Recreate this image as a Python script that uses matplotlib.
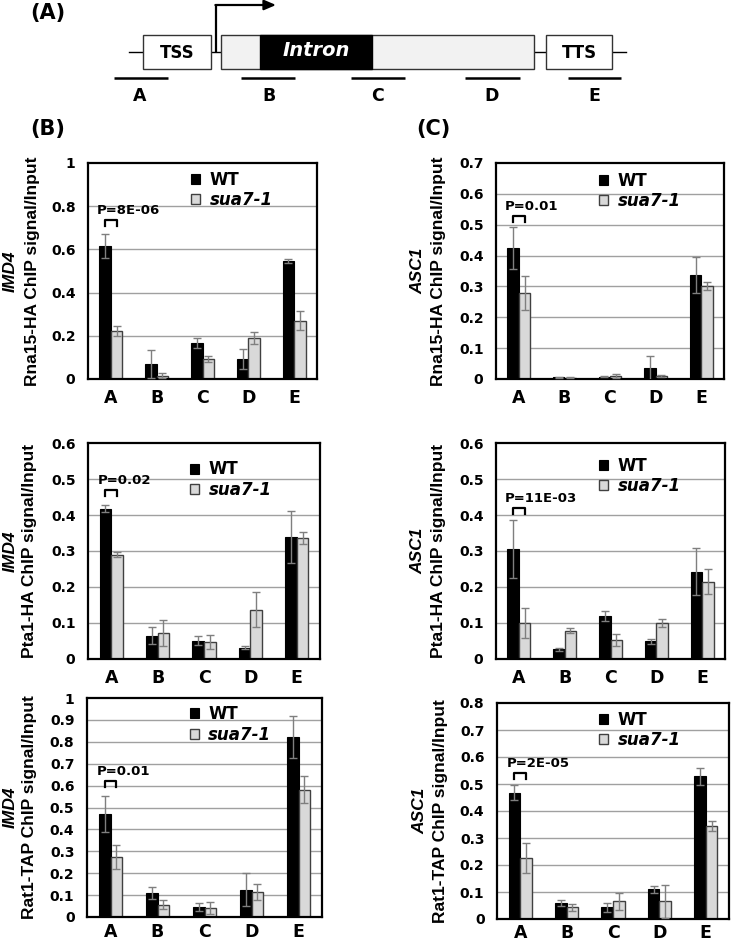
import matplotlib
matplotlib.use("Agg")
import matplotlib.pyplot as plt
import numpy as np
from matplotlib.patches import Rectangle

# ---------------- data ----------------
regions = ['A', 'B', 'C', 'D', 'E']
series_names = ['WT', 'sua7-1']

imd4_rna15_wt = [0.615, 0.069, 0.166, 0.092, 0.546]
imd4_rna15_wt_err = [0.055, 0.066, 0.023, 0.045, 0.010]
imd4_rna15_mut = [0.223, 0.015, 0.092, 0.190, 0.270]
imd4_rna15_mut_err = [0.023, 0.012, 0.015, 0.027, 0.045]

asc1_rna15_wt = [0.423, 0.006, 0.008, 0.035, 0.337]
asc1_rna15_wt_err = [0.068, 0.002, 0.002, 0.040, 0.058]
asc1_rna15_mut = [0.278, 0.004, 0.010, 0.010, 0.302]
asc1_rna15_mut_err = [0.056, 0.002, 0.007, 0.004, 0.012]

imd4_pta1_wt = [0.418, 0.065, 0.051, 0.031, 0.339]
imd4_pta1_wt_err = [0.010, 0.024, 0.013, 0.004, 0.073]
imd4_pta1_mut = [0.290, 0.072, 0.048, 0.137, 0.336]
imd4_pta1_mut_err = [0.008, 0.037, 0.020, 0.048, 0.016]

asc1_pta1_wt = [0.305, 0.027, 0.120, 0.049, 0.243]
asc1_pta1_wt_err = [0.081, 0.004, 0.014, 0.007, 0.064]
asc1_pta1_mut = [0.100, 0.079, 0.052, 0.100, 0.215]
asc1_pta1_mut_err = [0.043, 0.007, 0.017, 0.010, 0.035]

imd4_rat1_wt = [0.470, 0.110, 0.046, 0.125, 0.822]
imd4_rat1_wt_err = [0.084, 0.027, 0.018, 0.075, 0.097]
imd4_rat1_mut = [0.274, 0.056, 0.041, 0.113, 0.581]
imd4_rat1_mut_err = [0.053, 0.020, 0.027, 0.036, 0.061]

asc1_rat1_wt = [0.468, 0.059, 0.043, 0.110, 0.528]
asc1_rat1_wt_err = [0.027, 0.010, 0.016, 0.013, 0.032]
asc1_rat1_mut = [0.225, 0.043, 0.065, 0.065, 0.344]
asc1_rat1_mut_err = [0.055, 0.013, 0.031, 0.062, 0.018]

genes = ['IMD4', 'ASC1', 'IMD4', 'ASC1', 'IMD4', 'ASC1']
proteins = ['Rna15-HA', 'Rna15-HA', 'Pta1-HA', 'Pta1-HA', 'Rat1-TAP', 'Rat1-TAP']
p_values = ['P=8E-06', 'P=0.01', 'P=0.02', 'P=11E-03', 'P=0.01', 'P=2E-05']
y_max = [1.0, 0.7, 0.6, 0.6, 1.0, 0.8]
y_step = [0.2, 0.1, 0.1, 0.1, 0.1, 0.1]

panels = [
    (imd4_rna15_wt, imd4_rna15_wt_err, imd4_rna15_mut, imd4_rna15_mut_err),
    (asc1_rna15_wt, asc1_rna15_wt_err, asc1_rna15_mut, asc1_rna15_mut_err),
    (imd4_pta1_wt, imd4_pta1_wt_err, imd4_pta1_mut, imd4_pta1_mut_err),
    (asc1_pta1_wt, asc1_pta1_wt_err, asc1_pta1_mut, asc1_pta1_mut_err),
    (imd4_rat1_wt, imd4_rat1_wt_err, imd4_rat1_mut, imd4_rat1_mut_err),
    (asc1_rat1_wt, asc1_rat1_wt_err, asc1_rat1_mut, asc1_rat1_mut_err),
]

# ---------------- layout (pixels) ----------------
W, H = 732, 943
axes_px = [(88, 163, 317, 379), (496, 163, 724, 379),
           (88, 443, 320, 659), (496, 443, 725, 659),
           (87, 698, 322, 917), (497, 703, 729, 919)]
ylabel_x = [(10, 33), (418, 438), (10, 30), (418, 438), (10, 30), (420, 440)]
legend_anchor = [(0.45, 0.875), (0.452, 0.870), (0.44, 0.830),
                 (0.45, 0.848), (0.438, 0.879), (0.44, 0.875)]
bracket_y = [0.736, 0.528, 0.469, 0.419, 0.621, 0.541]
xlabel_pad = [7, 7, 7, 7, 4.5, 3.5]

HFONT = 'DejaVu Sans'
VFONT = 'Liberation Sans'

fig = plt.figure(figsize=(W / 100, H / 100), dpi=100)

# ---------------- gene diagram & section labels ----------------
ov = fig.add_axes([0, 0, 1, 1])
ov.set_xlim(0, W)
ov.set_ylim(H, 0)
ov.axis('off')
ov.set_zorder(-1)

ov.plot([129, 626], [52, 52], color='black', lw=1.0, zorder=0)
ov.add_patch(Rectangle((143, 35), 68, 34, fc='white', ec='#333333', lw=1.0, zorder=1))
ov.add_patch(Rectangle((221, 35), 313, 34, fc='#f2f2f2', ec='#333333', lw=1.0, zorder=1))
ov.add_patch(Rectangle((260, 35), 112, 34, fc='black', ec='black', lw=1.0, zorder=1))
ov.add_patch(Rectangle((546, 35), 66, 34, fc='white', ec='#333333', lw=1.0, zorder=1))
ov.text(177, 53, 'TSS', ha='center', va='center', fontsize=12, fontweight='bold', family=HFONT)
ov.text(579, 53, 'TTS', ha='center', va='center', fontsize=12, fontweight='bold', family=HFONT)
ov.text(316, 51, 'Intron', ha='center', va='center', fontsize=14, fontweight='bold',
        fontstyle='italic', color='white', family=HFONT, zorder=3)
ov.plot([216, 216], [52, 5], color='black', lw=1.6, solid_capstyle='butt', zorder=2)
ov.annotate('', xy=(276, 5), xytext=(215.4, 5),
            arrowprops=dict(arrowstyle='-|>,head_length=0.7,head_width=0.3',
                            color='black', lw=1.6, shrinkA=0, shrinkB=0))
under_x = [(114, 168), (241, 295), (351, 405), (465, 520), (568, 621)]
label_x = [140, 269, 378, 492, 594]
for (x0, x1), lx, r in zip(under_x, label_x, regions):
    ov.plot([x0, x1], [78, 78], color='black', lw=1.8, solid_capstyle='butt')
    ov.text(lx, 96, r, ha='center', va='center', fontsize=12.5, fontweight='bold', family=HFONT)

ov.text(30, 13, '(A)', ha='left', va='center', fontsize=15, fontweight='bold', family=HFONT)
ov.text(30, 129, '(B)', ha='left', va='center', fontsize=15, fontweight='bold', family=HFONT)
ov.text(416, 129, '(C)', ha='left', va='center', fontsize=15, fontweight='bold', family=HFONT)

# ---------------- bar charts ----------------
x = np.arange(len(regions))
bw = 0.25
for i, (wt, wte, mt, mte) in enumerate(panels):
    x0, y0, x1, y1 = axes_px[i]
    ax = fig.add_axes([x0 / W, 1 - y1 / H, (x1 - x0) / W, (y1 - y0) / H])
    ticks = np.round(np.arange(0, y_max[i] + 1e-9, y_step[i]), 2)
    for t in ticks[1:-1]:
        ax.axhline(t, color='#a0a0a0', lw=1.0, zorder=0)
    b1 = ax.bar(x - bw / 2, wt, bw, color='black', edgecolor='black', lw=0.8, zorder=2,
                label=series_names[0])
    b2 = ax.bar(x + bw / 2, mt, bw, color='#d9d9d9', edgecolor='#404040', lw=1.0, zorder=2,
                label=series_names[1])
    ax.errorbar(x - bw / 2, wt, yerr=wte, fmt='none', ecolor='#7f7f7f', elinewidth=1.0,
                capsize=3, capthick=1.0, zorder=3)
    ax.errorbar(x + bw / 2, mt, yerr=mte, fmt='none', ecolor='#7f7f7f', elinewidth=1.0,
                capsize=3, capthick=1.0, zorder=3)
    ax.set_xlim(-0.5, len(regions) - 0.5)
    ax.set_ylim(0, y_max[i])
    ax.set_yticks(ticks)
    ax.set_yticklabels([f'{t:g}' for t in ticks], fontsize=10, fontweight='bold', family=HFONT)
    ax.set_xticks(x)
    ax.set_xticklabels(regions, fontsize=12.5, fontweight='bold', family=HFONT)
    ax.tick_params(axis='both', length=0)
    ax.tick_params(axis='y', pad=9)
    ax.tick_params(axis='x', pad=xlabel_pad[i])
    for s in ax.spines.values():
        s.set_linewidth(1.6)
        s.set_color('black')

    # legend
    lx, ly = legend_anchor[i]
    leg = ax.legend(handles=[b1, b2], loc='center left', bbox_to_anchor=(lx, ly),
                    frameon=False, borderpad=0, borderaxespad=0, handlelength=0.55,
                    handleheight=0.55, handletextpad=0.55, labelspacing=0.15,
                    prop=dict(family=HFONT, size=12, weight='bold'))
    leg.get_texts()[1].set_fontstyle('italic')

    # p-value bracket
    by = bracket_y[i]
    leg_len = 0.028 * y_max[i]
    ax.plot([x[0] - bw / 2, x[0] - bw / 2, x[0] + bw / 2, x[0] + bw / 2],
            [by - leg_len, by, by, by - leg_len], color='black', lw=1.6, zorder=4)
    ax.annotate(p_values[i], xy=(x[0] - 0.3, by), xytext=(0, 2.0), textcoords='offset points',
                ha='left', va='bottom', fontsize=9.5, fontweight='bold', family=HFONT)

    # y labels (two lines)
    cy = 1 - (y0 + y1) / 2 / H
    lx1, lx2 = ylabel_x[i]
    fig.text(lx1 / W, cy, genes[i], rotation=90, ha='center', va='center', fontsize=12.5,
             fontweight='bold', fontstyle='italic', family=VFONT)
    fig.text(lx2 / W, cy, proteins[i] + ' ChIP signal/Input', rotation=90, ha='center',
             va='center', fontsize=12.5, fontweight='bold', family=VFONT)

fig.savefig('out.png', dpi=100)
